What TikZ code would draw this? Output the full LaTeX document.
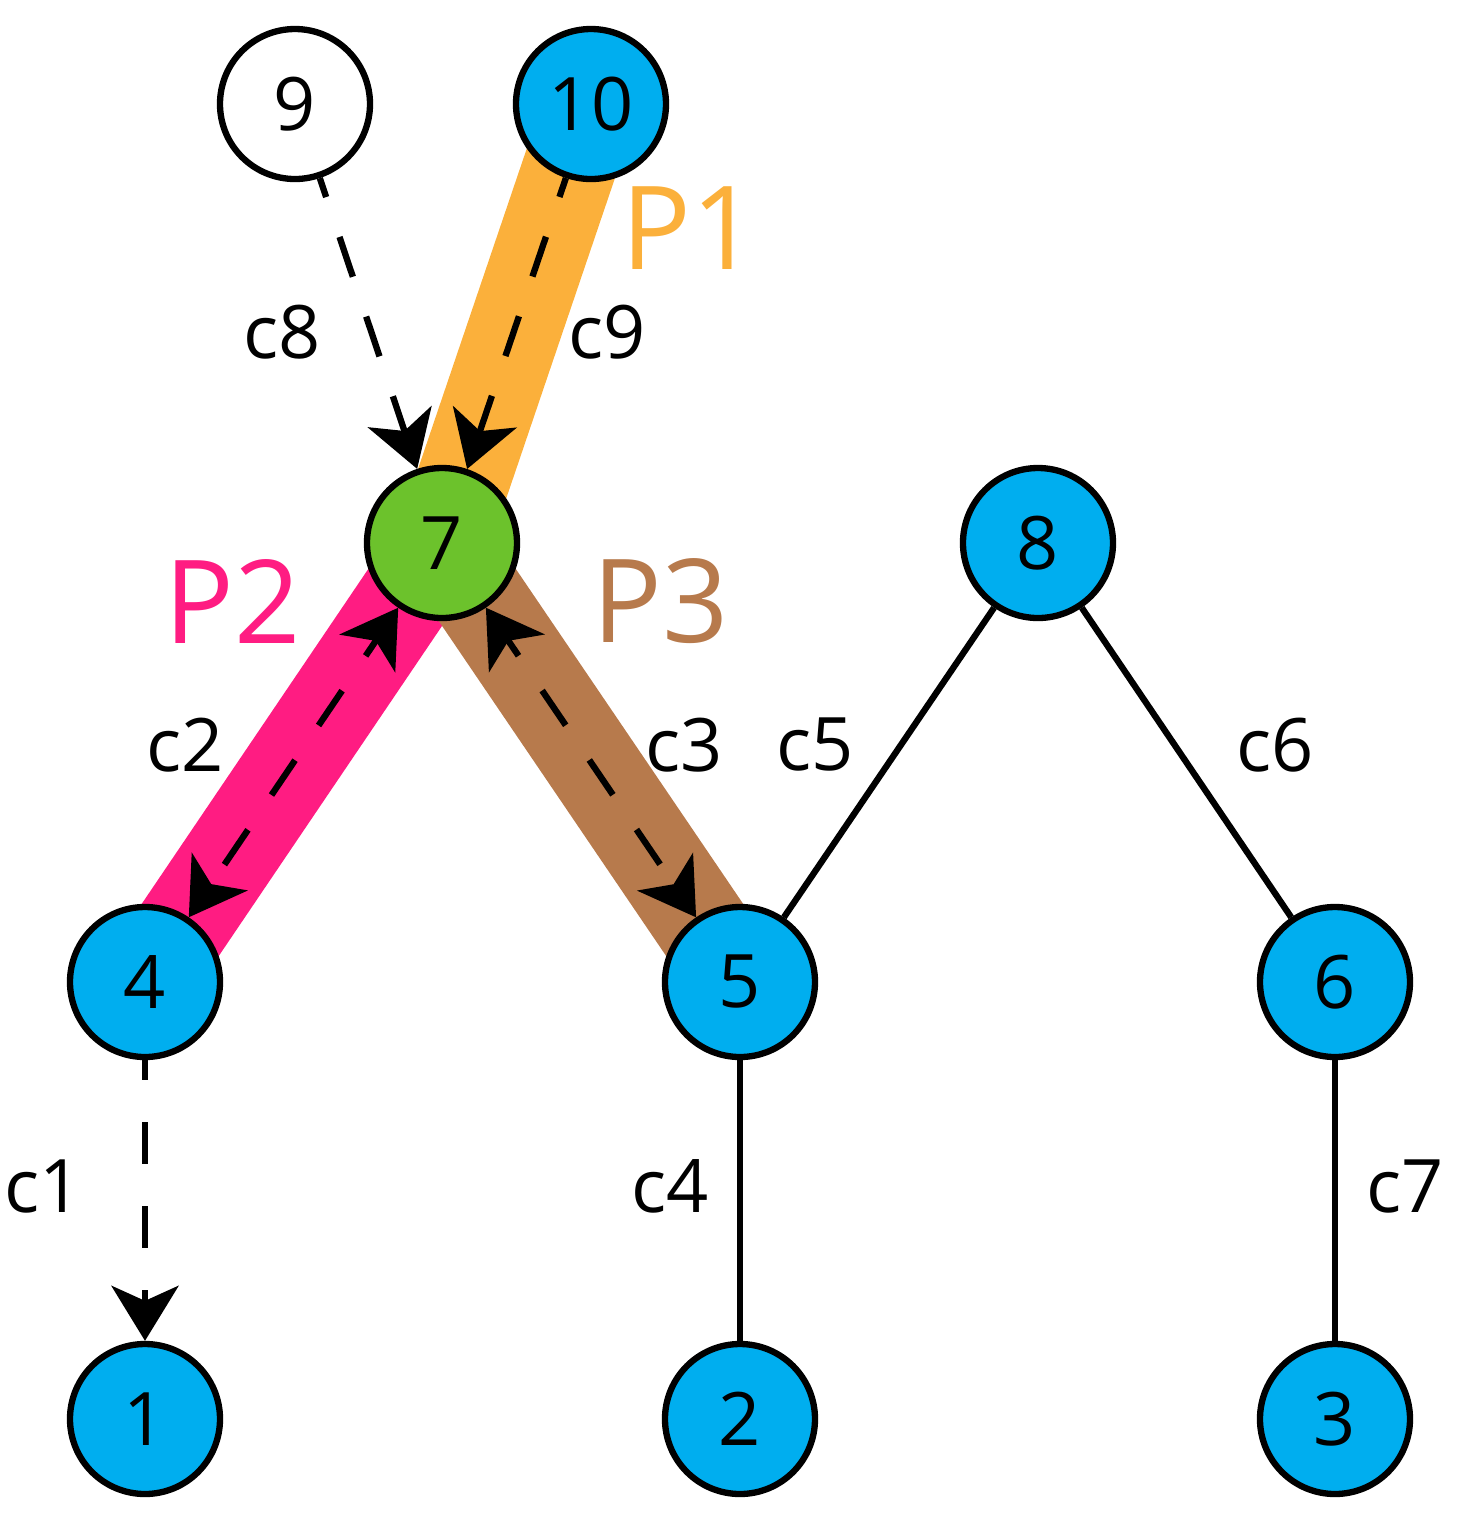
\documentclass[tikz,border=0pt]{standalone}
\usepackage{fontspec}
\setmainfont{Open Sans}
\usepackage{tikz}
\usetikzlibrary{arrows.meta,backgrounds}

\definecolor{nodeblue}{RGB}{0,174,239}
\definecolor{nodegreen}{RGB}{108,194,44}
\definecolor{pathorange}{RGB}{251,176,59}
\definecolor{pathpink}{RGB}{255,28,130}
\definecolor{pathbrown}{RGB}{183,122,76}

\begin{document}
\begin{tikzpicture}[
	vertex/.style={circle, draw, line width=1.8pt, minimum size=1.5cm, inner sep=0pt, font=\fontsize{21}{21}\selectfont},
	link/.style={line width=1.8pt},
	flow/.style={line width=1.8pt, dash pattern=on 4.2mm off 4.2mm, dash phase=2.2mm},
	band/.style={line width=9.3mm},
	clabel/.style={font=\fontsize{21}{21}\selectfont},
	plabel/.style={font=\fontsize{33}{33}\selectfont},
	>={Stealth[length=5.5mm,width=6.7mm,inset=1.5mm]}
]
\useasboundingbox (0,0) rectangle (14.7,-15.17);

% nodes
\node [vertex, fill=white] (n9) at (2.95,-1.04) {9};
\node [vertex, fill=nodeblue] (n10) at (5.91,-1.04) {10};
\node [vertex, fill=nodegreen] (n7) at (4.42,-5.43) {7};
\node [vertex, fill=nodeblue] (n8) at (10.38,-5.43) {8};
\node [vertex, fill=nodeblue] (n4) at (1.45,-9.82) {4};
\node [vertex, fill=nodeblue] (n5) at (7.40,-9.82) {5};
\node [vertex, fill=nodeblue] (n6) at (13.35,-9.82) {6};
\node [vertex, fill=nodeblue] (n1) at (1.45,-14.19) {1};
\node [vertex, fill=nodeblue] (n2) at (7.40,-14.19) {2};
\node [vertex, fill=nodeblue] (n3) at (13.35,-14.19) {3};

% highlighted paths
\begin{pgfonlayer}{background}
	\draw [band, pathorange] (n10.center) -- (n7.center);
	\draw [band, pathpink] (n7.center) -- (n4.center);
	\draw [band, pathbrown] (n7.center) -- (n5.center);
\end{pgfonlayer}

% connectors
\draw [flow, ->] (n9) -- (n7);
\draw [flow, ->] (n10) -- (n7);
\draw [flow, <->] (n7) -- (n4);
\draw [flow, <->] (n7) -- (n5);
\draw [flow, ->] (n4) -- (n1);
\draw [link] (n5) -- (n2);
\draw [link] (n5) -- (n8);
\draw [link] (n8) -- (n6);
\draw [link] (n6) -- (n3);

% labels
\node [clabel] (l8) at (2.82,-3.32) {c8};
\node [clabel] (l9) at (6.07,-3.32) {c9};
\node [clabel] (l2) at (1.85,-7.45) {c2};
\node [clabel] (l3) at (6.84,-7.45) {c3};
\node [clabel] (l5) at (8.15,-7.45) {c5};
\node [clabel] (l6) at (12.75,-7.45) {c6};
\node [clabel] (l1) at (0.43,-11.86) {c1};
\node [clabel] (l4) at (6.70,-11.86) {c4};
\node [clabel] (l7) at (14.05,-11.86) {c7};
\node [plabel, text=pathorange] (p1) at (6.90,-2.28) {P1};
\node [plabel, text=pathpink] (p2) at (2.33,-6.01) {P2};
\node [plabel, text=pathbrown] (p3) at (6.61,-6.01) {P3};
\end{tikzpicture}
\end{document}
